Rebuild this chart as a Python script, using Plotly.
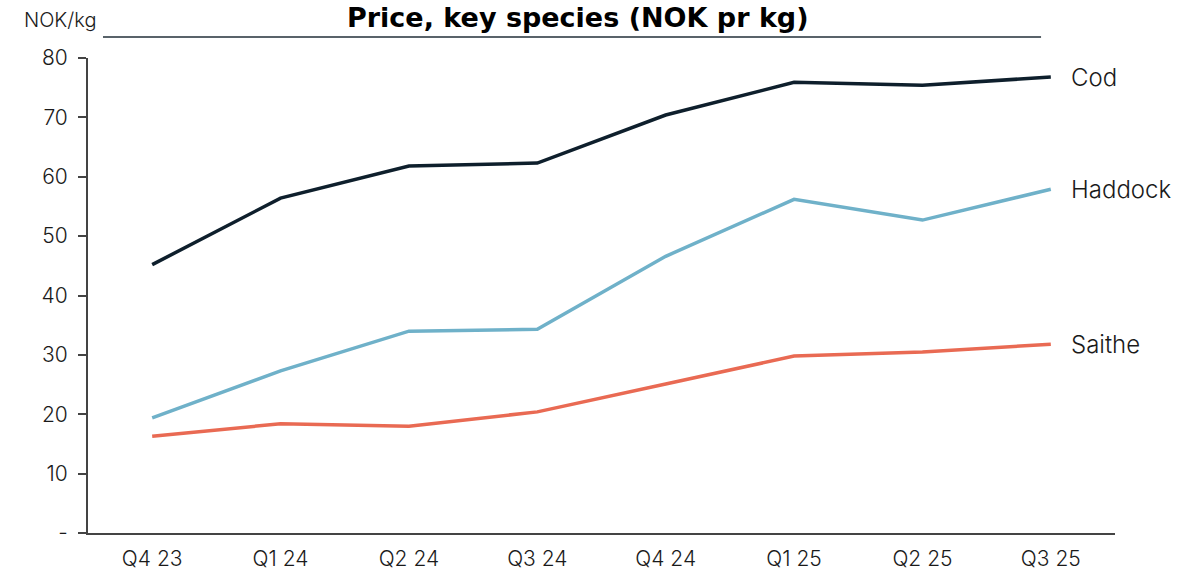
import plotly.graph_objects as go

# Data
quarters = ["Q4 23", "Q1 24", "Q2 24", "Q3 24", "Q4 24", "Q1 25", "Q2 25", "Q3 25"]
cod = [45.2, 56.4, 61.8, 62.3, 70.4, 75.9, 75.4, 76.8]
haddock = [19.4, 27.3, 34.0, 34.3, 46.6, 56.2, 52.7, 57.9]
saithe = [16.3, 18.4, 18.0, 20.4, 25.1, 29.8, 30.5, 31.8]

series = [
    ("Cod", cod, "#0e1f2c"),
    ("Haddock", haddock, "#6fb1c9"),
    ("Saithe", saithe, "#e96a53"),
]

FONT = "Inter"
TXT = dict(family=FONT, size=20, color="#1a1a1a", weight=300)

fig = go.Figure()
for name, vals, color in series:
    fig.add_trace(go.Scatter(
        x=quarters, y=vals, mode="lines", name=name,
        line=dict(color=color, width=3.5),
        showlegend=False,
    ))
    # etiketter til høyre
    fig.add_annotation(
        x=quarters[-1], y=vals[-1], text=name, showarrow=False,
        xanchor="left", xshift=18, font=dict(TXT, size=24),
    )

fig.update_layout(
    width=1201,
    height=570,
    margin=dict(l=88, r=86, t=58, b=37, autoexpand=False),
    plot_bgcolor="white",
    paper_bgcolor="white",
    font=TXT,
    xaxis=dict(
        type="category", range=[-0.5, 7.5],
        showline=True, linecolor="#444444", linewidth=2,
        showgrid=False, ticks="", ticklabelstandoff=6,
        tickfont=dict(TXT, size=21),
    ),
    yaxis=dict(
        range=[0, 80], tickvals=[0, 10, 20, 30, 40, 50, 60, 70, 80],
        ticktext=["-", "10", "20", "30", "40", "50", "60", "70", "80"],
        showline=True, linecolor="#444444", linewidth=2,
        ticks="outside", ticklen=8, tickcolor="#444444", tickwidth=2,
        ticklabelstandoff=6, tickfont=dict(TXT, size=21),
        showgrid=False, zeroline=False,
    ),
)

# tittel
fig.add_annotation(
    xref="paper", yref="paper", x=0.477, y=1.122, yanchor="top",
    text="<b>Price, key species (NOK pr kg)</b>", showarrow=False,
    font=dict(size=27, color="#000000", family="DejaVu Sans"),
)
fig.add_annotation(
    xref="paper", yref="paper", x=-0.0643, y=1.08, xanchor="left", yanchor="middle",
    text="NOK/kg", showarrow=False, font=dict(TXT, size=20),
)
fig.add_shape(
    type="line", xref="paper", yref="paper",
    x0=0.0146, x1=0.928, y0=1.044, y1=1.044,
    line=dict(color="#59636a", width=2),
)

# fjern nettleserens kantmarg så figuren starter i hjørnet
fig.write_html(
    "out.html",
    config={"displayModeBar": False},
    post_script="document.body.style.margin='0';",
)
